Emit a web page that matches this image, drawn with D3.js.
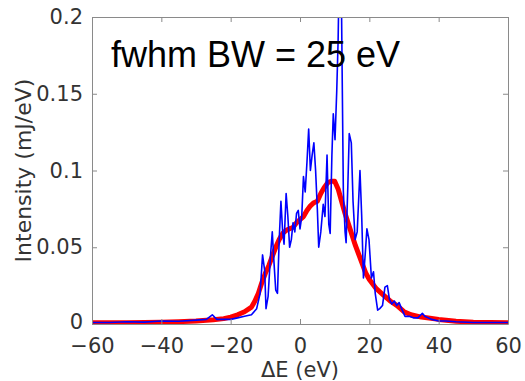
<!DOCTYPE html>
<meta charset="utf-8">
<html>
<style>
  body { margin: 0; background: #fff; }
  .tick text { font-family: "DejaVu Sans", sans-serif; font-size: 21px; fill: #333; }
</style>
<div id="chart"></div>
<script src="https://d3js.org/d3.v7.min.js"></script>
<script>
// single shot spectrum (blue) : energy offset (eV) and intensity (mJ/eV)
var shotE = [-60,-55,-50,-45,-40,-35,-30,-27,-25.3,-24,-22,-20,-18,-16,-14,-12.5,-11.5,-10.8,-10.2,-9.8,-9.2,-8.5,-8.0,-7.5,-7.0,-6.5,-6.0,-5.5,-5.0,-4.6,-4.0,-3.5,-3.0,-2.5,-2.0,-1.5,-1.0,-0.5,0.0,0.5,1.0,1.5,2.0,2.5,3.0,3.5,4.0,4.5,5.0,5.4,6.0,6.7,7.2,7.8,8.3,8.7,9.2,9.6,10.1,10.6,11.0,11.5,12.0,12.5,13.0,13.3,13.8,14.2,14.8,15.3,15.9,16.5,17.3,17.8,18.3,18.8,19.3,19.9,20.6,21.2,21.7,22.4,23.0,23.8,24.5,25.2,25.8,26.5,27.2,27.9,28.6,29.3,30.3,31.5,32.7,34,35.3,36,38,40,42,45,50,55,60];
var shotI = [0.001,0.001,0.0015,0.0012,0.002,0.0018,0.0025,0.003,0.006,0.003,0.003,0.003,0.004,0.005,0.006,0.010,0.020,0.045,0.035,0.010,0.018,0.045,0.060,0.040,0.022,0.020,0.055,0.080,0.060,0.052,0.085,0.070,0.050,0.055,0.066,0.060,0.072,0.074,0.062,0.070,0.096,0.086,0.105,0.127,0.100,0.110,0.118,0.100,0.075,0.050,0.060,0.078,0.070,0.110,0.065,0.059,0.110,0.137,0.120,0.152,0.185,0.26,0.20,0.087,0.060,0.053,0.090,0.124,0.118,0.080,0.055,0.060,0.100,0.070,0.030,0.045,0.062,0.055,0.030,0.034,0.020,0.009,0.010,0.012,0.024,0.025,0.016,0.013,0.015,0.012,0.014,0.010,0.005,0.005,0.004,0.004,0.007,0.005,0.003,0.002,0.002,0.0015,0.001,0.001,0.001];

// averaged spectrum (red)
var avgE = [-60,-50,-40,-35,-30,-25,-22,-20,-18,-16,-14,-13,-12,-11,-10,-9,-8,-7,-6,-5,-4,-3,-2,-1,0,1,2,3,4,5,6,7,8,9,10,11,12,13,14,15,16,17,18,19,20,22,24,26,28,30,32,35,40,45,50,60];
var avgI = [0.0008,0.0008,0.0012,0.0015,0.002,0.0028,0.0035,0.0045,0.006,0.008,0.011,0.015,0.020,0.027,0.033,0.038,0.044,0.050,0.055,0.059,0.061,0.062,0.063,0.066,0.068,0.070,0.074,0.077,0.079,0.080,0.085,0.089,0.092,0.093,0.093,0.088,0.080,0.072,0.065,0.058,0.051,0.045,0.039,0.033,0.029,0.023,0.019,0.015,0.012,0.008,0.006,0.0045,0.003,0.0018,0.0012,0.0008];

var xTicks = [-60,-40,-20,0,20,40,60];
var yTicks = [0,0.05,0.1,0.15,0.2];

var width = 525, height = 381;
var margin = {top: 17, right: 17, bottom: 57, left: 92};
var w = width - margin.left - margin.right,
    h = height - margin.top - margin.bottom;

var svg = d3.select("#chart").append("svg")
  .attr("width", width).attr("height", height);

var g = svg.append("g").attr("transform", "translate(" + margin.left + "," + margin.top + ")");

var x = d3.scaleLinear().domain([-60, 60]).range([0, w]);
var y = d3.scaleLinear().domain([0, 0.2]).range([h, 0]);

g.append("clipPath").attr("id", "clip")
  .append("rect").attr("width", w).attr("height", h);

var line = d3.line()
  .x(function(d) { return x(d[0]); })
  .y(function(d) { return y(d[1]); });

var avg = avgE.map(function(e, i) { return [e, avgI[i]]; });
var shot = shotE.map(function(e, i) { return [e, shotI[i]]; });

g.append("path").datum(avg)
  .attr("clip-path", "url(#clip)")
  .attr("fill", "none").attr("stroke", "#ff0000")
  .attr("stroke-width", 5).attr("stroke-linejoin", "round")
  .attr("d", line);

g.append("path").datum(shot)
  .attr("clip-path", "url(#clip)")
  .attr("fill", "none").attr("stroke", "#0000ff")
  .attr("stroke-width", 1.6).attr("stroke-linejoin", "round")
  .attr("d", line);

// axes, ticks pointing inwards on all four sides
var yFmt = function(d) { return d === 0 ? "0" : d3.format("")(d); };

var ax = [
  g.append("g").attr("transform", "translate(0," + h + ")")
    .call(d3.axisBottom(x).tickValues(xTicks).tickSizeInner(-5).tickSizeOuter(0).tickPadding(14)),
  g.append("g")
    .call(d3.axisLeft(y).tickValues(yTicks).tickFormat(yFmt).tickSizeInner(-5).tickSizeOuter(0).tickPadding(9)),
  g.append("g")
    .call(d3.axisTop(x).tickValues(xTicks).tickFormat("").tickSizeInner(-5).tickSizeOuter(0)),
  g.append("g").attr("transform", "translate(" + w + ",0)")
    .call(d3.axisRight(y).tickValues(yTicks).tickFormat("").tickSizeInner(-5).tickSizeOuter(0))
];
ax.forEach(function(a) {
  a.selectAll(".domain, .tick line").attr("stroke", "#8a8a8a");
});
// nudge the zero label up a little so it clears the -60 label
ax[1].selectAll(".tick text").filter(function(d) { return d === 0; }).attr("dy", "0.2em");

// axis labels
svg.append("text")
  .attr("x", margin.left + w / 2).attr("y", 377)
  .attr("text-anchor", "middle")
  .style("font-family", "DejaVu Sans, sans-serif").style("font-size", "21px").style("fill", "#333")
  .text("\u0394E (eV)");

svg.append("text")
  .attr("transform", "translate(31," + (margin.top + h / 2) + ") rotate(-90)")
  .attr("text-anchor", "middle")
  .style("font-family", "DejaVu Sans, sans-serif").style("font-size", "22px").style("fill", "#333")
  .text("Intensity (mJ/eV)");

// annotation
svg.append("text")
  .attr("x", 111).attr("y", 67)
  .style("font-family", "Liberation Sans, Arial, sans-serif").style("font-size", "36px").style("fill", "#000")
  .text("fwhm BW = 25 eV");
</script>
</html>
